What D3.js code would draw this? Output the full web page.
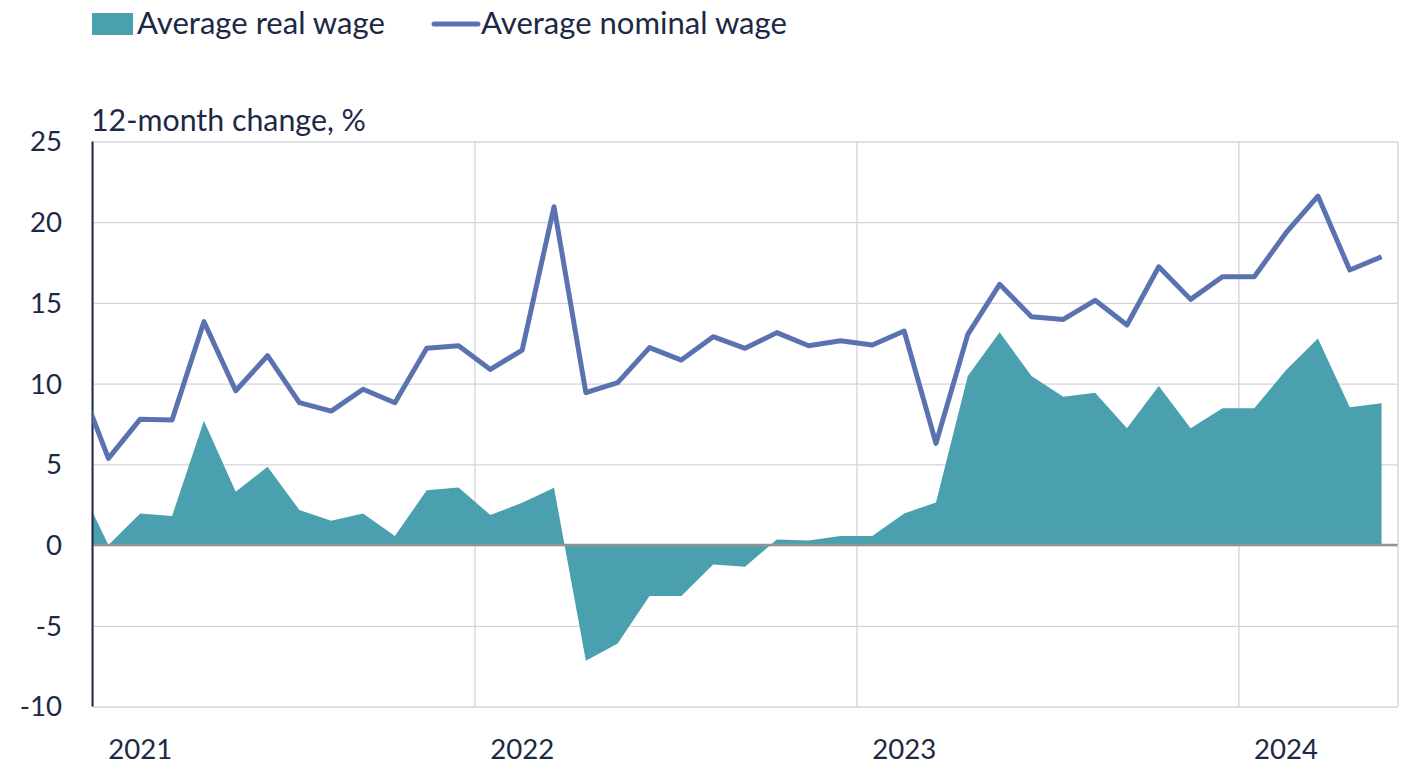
<!DOCTYPE html>
<html>
<head>
<meta charset="utf-8">
<script src="https://cdn.jsdelivr.net/npm/d3@7"></script>
<style>
  html, body { margin: 0; padding: 0; background: #ffffff; }
  svg { display: block; }
  text { font-family: Lato, "Open Sans", sans-serif; fill: #1d2846; }
</style>
</head>
<body>
<svg id="chart" width="1428" height="779"></svg>
<script>
// ---- data ----
// monthly observations, Dec 2020 .. May 2024 (Dec 2020 lies just left of the plot and is clipped)
const months = [
  "2020-12",
  "2021-01","2021-02","2021-03","2021-04","2021-05","2021-06","2021-07","2021-08","2021-09","2021-10","2021-11","2021-12",
  "2022-01","2022-02","2022-03","2022-04","2022-05","2022-06","2022-07","2022-08","2022-09","2022-10","2022-11","2022-12",
  "2023-01","2023-02","2023-03","2023-04","2023-05","2023-06","2023-07","2023-08","2023-09","2023-10","2023-11","2023-12",
  "2024-01","2024-02","2024-03","2024-04","2024-05"
];
const realWage = [
  4.1,
  0.0, 1.96, 1.8, 7.7, 3.3, 4.85, 2.17, 1.51, 1.96, 0.56, 3.4, 3.57,
  1.86, 2.62, 3.55, -7.17, -6.09, -3.16, -3.16, -1.2, -1.34, 0.35, 0.29, 0.56,
  0.56, 1.96, 2.64, 10.47, 13.18, 10.47, 9.19, 9.44, 7.23, 9.85, 7.23, 8.47,
  8.47, 10.84, 12.8, 8.53, 8.78
];
const nominalWage = [
  10.5,
  5.37, 7.8, 7.75, 13.84, 9.56, 11.73, 8.82, 8.3, 9.65, 8.82, 12.19, 12.35,
  10.88, 12.08, 20.96, 9.44, 10.06, 12.23, 11.46, 12.91, 12.19, 13.16, 12.35, 12.66,
  12.39, 13.26, 6.3, 13.05, 16.15, 14.15, 13.98, 15.16, 13.63, 17.24, 15.22, 16.62,
  16.62, 19.35, 21.62, 17.04, 17.86
];
const yTicks = [-10, -5, 0, 5, 10, 15, 20, 25];
const yearLabels = ["2021", "2022", "2023", "2024"];
const seriesNames = ["Average real wage", "Average nominal wage"];
const axisTitle = "12-month change, %";

// ---- layout ----
const svg = d3.select("#chart");
const plot = { left: 92.5, right: 1397.5, top: 141.5, bottom: 706.5 };
const colors = { area: "#4aa0ae", line: "#5b72b0", grid: "#d3d3dc", zero: "#939393", axis: "#1d2846" };

// month index relative to Jan 2021, points in the middle of each month
const monthIndex = m => { const [yy, mm] = m.split("-").map(Number); return (yy - 2021) * 12 + (mm - 1); };
const x = d3.scaleLinear().domain([0, 41]).range([plot.left, plot.right]);
const y = d3.scaleLinear().domain([-10, 25]).range([plot.bottom, plot.top]);

const data = months.map((m, i) => ({ t: monthIndex(m) + 0.5, real: realWage[i], nom: nominalWage[i] }));

svg.append("defs").append("clipPath").attr("id", "clip")
  .append("rect").attr("x", plot.left).attr("y", plot.top - 10)
  .attr("width", plot.right - plot.left).attr("height", plot.bottom - plot.top + 20);

// horizontal gridlines
svg.append("g")
  .attr("transform", `translate(${plot.left},0)`)
  .call(d3.axisLeft(y).tickValues(yTicks).tickSize(-(plot.right - plot.left)).tickFormat(""))
  .call(g => g.select(".domain").remove())
  .call(g => g.selectAll("line").attr("stroke", colors.grid).attr("stroke-width", 1.3));

// vertical year gridlines + right border
const yearStarts = yearLabels.map(yl => (Number(yl) - 2021) * 12).concat([41]);
svg.append("g")
  .attr("transform", `translate(0,${plot.bottom})`)
  .call(d3.axisBottom(x).tickValues(yearStarts).tickSize(-(plot.bottom - plot.top)).tickFormat(""))
  .call(g => g.select(".domain").remove())
  .call(g => g.selectAll("line").attr("stroke", colors.grid).attr("stroke-width", 1.3));

// real wage area
const area = d3.area().x(d => x(d.t)).y0(y(0)).y1(d => y(d.real));
svg.append("path").datum(data)
  .attr("clip-path", "url(#clip)")
  .attr("d", area).attr("fill", colors.area);

// zero line
svg.append("line")
  .attr("x1", plot.left).attr("x2", plot.right)
  .attr("y1", y(0)).attr("y2", y(0))
  .attr("stroke", colors.zero).attr("stroke-width", 2.5);

// left axis line
svg.append("line")
  .attr("x1", plot.left).attr("x2", plot.left)
  .attr("y1", plot.top).attr("y2", plot.bottom)
  .attr("stroke", colors.axis).attr("stroke-width", 2);

// nominal wage line
const line = d3.line().x(d => x(d.t)).y(d => y(d.nom));
svg.append("path").datum(data)
  .attr("clip-path", "url(#clip)")
  .attr("d", line).attr("fill", "none")
  .attr("stroke", colors.line).attr("stroke-width", 5)
  .attr("stroke-linejoin", "round");

// helper to fit font size to a target width
function fitSize(sel, targetWidth) {
  sel.attr("font-size", 100);
  const w = sel.node().getComputedTextLength();
  sel.attr("font-size", 100 * targetWidth / w);
  return 100 * targetWidth / w;
}

// y tick labels
const ySel = svg.append("g").selectAll("text").data(yTicks).join("text")
  .attr("x", 62).attr("y", d => y(d)).attr("dy", "0.36em")
  .attr("text-anchor", "end").text(d => d);
const probe = svg.append("text").text("25");
const ySize = fitSize(probe, 32); probe.remove();
ySel.attr("font-size", ySize);

// year labels (centered 1.5 months into each year)
const xl = svg.append("g").selectAll("text").data(yearLabels).join("text")
  .attr("x", d => x((Number(d) - 2021) * 12 + 1.5)).attr("y", 759)
  .attr("text-anchor", "middle").text(d => d);
const p2 = svg.append("text").text("2021");
const xSize = fitSize(p2, 64); p2.remove();
xl.attr("font-size", xSize);

// axis title
const ttl = svg.append("text").attr("x", 91).attr("y", 131).text(axisTitle);
fitSize(ttl, 275);

// legend
svg.append("rect").attr("x", 92).attr("y", 13).attr("width", 41).attr("height", 22).attr("fill", colors.area);
const l1 = svg.append("text").attr("x", 137).attr("y", 34).text(seriesNames[0]);
fitSize(l1, 248);
svg.append("line").attr("x1", 434).attr("x2", 478).attr("y1", 24).attr("y2", 24)
  .attr("stroke", colors.line).attr("stroke-width", 5).attr("stroke-linecap", "round");
const l2 = svg.append("text").attr("x", 481).attr("y", 34).text(seriesNames[1]);
fitSize(l2, 306);
</script>
</body>
</html>
